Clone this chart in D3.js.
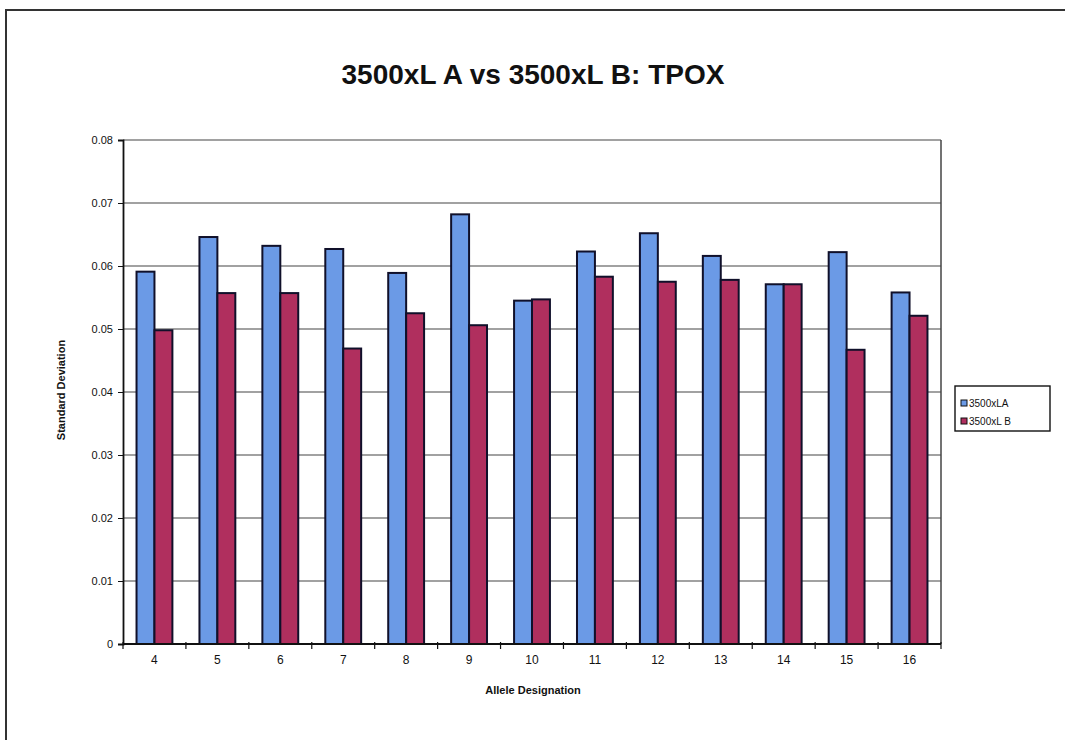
<!DOCTYPE html>
<html lang="en">
<head>
<meta charset="UTF-8">
<title>3500xL A vs 3500xL B: TPOX</title>
<style>
  body { margin: 0; background: #fff; }
  text { font-family: "Liberation Sans", Arial, sans-serif; fill: #111; }
</style>
</head>
<body>
<script src="https://cdn.jsdelivr.net/npm/d3@7"></script>
<script>
// data
var alleles = ["4", "5", "6", "7", "8", "9", "10", "11", "12", "13", "14", "15", "16"];
var seriesNames = ["3500xLA", "3500xL B"];
var valuesA = [0.0591, 0.0646, 0.0632, 0.0627, 0.0589, 0.0682, 0.0545, 0.0623, 0.0652, 0.0616, 0.0571, 0.0622, 0.0558];
var valuesB = [0.0498, 0.0557, 0.0557, 0.0469, 0.0525, 0.0506, 0.0547, 0.0583, 0.0575, 0.0578, 0.0571, 0.0467, 0.0521];
var yTicks = [0, 0.01, 0.02, 0.03, 0.04, 0.05, 0.06, 0.07, 0.08];
var colors = ["#6b9ae6", "#b02f5e"];

var W = 1065, H = 740;
var svg = d3.select("body").append("svg").attr("width", W).attr("height", H);

// outer chart frame (runs off the picture on the right and bottom)
svg.append("path")
  .attr("d", "M6," + (H + 5) + "V10H" + (W + 5))
  .attr("fill", "none").attr("stroke", "#333").attr("stroke-width", 2);

svg.append("text")
  .attr("x", 533).attr("y", 84)
  .attr("text-anchor", "middle")
  .attr("font-size", 28).attr("font-weight", "bold")
  .text("3500xL A vs 3500xL B: TPOX");

var pLeft = 123, pRight = 941, pTop = 140, pBottom = 644;

var x = d3.scaleBand().domain(alleles).range([pLeft, pRight]).paddingInner(0.43).paddingOuter(0.215);
var xs = d3.scaleBand().domain([0, 1]).range([0, x.bandwidth()]);
var y = d3.scaleLinear().domain([0, 0.08]).range([pBottom, pTop]);

// gridlines
svg.append("g").selectAll("line").data(yTicks.slice(1)).enter().append("line")
  .attr("x1", pLeft).attr("x2", pRight)
  .attr("y1", function(d) { return y(d); }).attr("y2", function(d) { return y(d); })
  .attr("stroke", "#444").attr("stroke-width", 1.2);

// right plot border
svg.append("line").attr("x1", pRight).attr("x2", pRight).attr("y1", pTop).attr("y2", pBottom)
  .attr("stroke", "#444").attr("stroke-width", 1.5);

// bars
var rows = alleles.map(function(a, i) { return {a: a, v: [valuesA[i], valuesB[i]]}; });
var g = svg.append("g").selectAll("g").data(rows).enter().append("g")
  .attr("transform", function(d) { return "translate(" + x(d.a) + ",0)"; });
g.selectAll("rect").data(function(d) { return d.v; }).enter().append("rect")
  .attr("x", function(d, i) { return xs(i); })
  .attr("y", function(d) { return y(d); })
  .attr("width", xs.bandwidth())
  .attr("height", function(d) { return pBottom - y(d); })
  .attr("fill", function(d, i) { return colors[i]; })
  .attr("stroke", "#10102a").attr("stroke-width", 2);

// y axis
var yAxis = svg.append("g").attr("transform", "translate(" + pLeft + ",0)")
  .call(d3.axisLeft(y).tickValues(yTicks).tickSize(5).tickFormat(function(d) { return d === 0 ? "0" : d3.format(".2f")(d); }));
yAxis.select(".domain").attr("stroke", "#111").attr("stroke-width", 1.8);
yAxis.selectAll(".tick line").attr("stroke", "#111");
yAxis.selectAll(".tick text").attr("font-size", 11).attr("x", -10).attr("fill", "#111");

// x axis with ticks between categories
var xAxis = svg.append("g").attr("transform", "translate(0," + pBottom + ")");
xAxis.append("line").attr("x1", pLeft).attr("x2", pRight).attr("stroke", "#111").attr("stroke-width", 1.8);
var step = x.step();
xAxis.selectAll(".tk").data(d3.range(alleles.length + 1)).enter().append("line")
  .attr("x1", function(i) { return pLeft + i * step; }).attr("x2", function(i) { return pLeft + i * step; })
  .attr("y1", -2).attr("y2", 5).attr("stroke", "#111").attr("stroke-width", 1.2);
xAxis.selectAll(".lbl").data(alleles).enter().append("text")
  .attr("x", function(d) { return x(d) + x.bandwidth() / 2; })
  .attr("y", 20).attr("text-anchor", "middle").attr("font-size", 12)
  .text(function(d) { return d; });

// axis titles
svg.append("text")
  .attr("transform", "translate(65,390) rotate(-90)")
  .attr("text-anchor", "middle").attr("font-size", 11).attr("font-weight", "bold")
  .text("Standard Deviation");
svg.append("text")
  .attr("x", 533).attr("y", 694).attr("text-anchor", "middle")
  .attr("font-size", 11).attr("font-weight", "bold")
  .text("Allele Designation");

// legend
var lg = svg.append("g").attr("transform", "translate(955,386)");
lg.append("rect").attr("width", 95).attr("height", 45)
  .attr("fill", "#fff").attr("stroke", "#111").attr("stroke-width", 1.4);
var li = lg.selectAll(".li").data(seriesNames).enter().append("g")
  .attr("transform", function(d, i) { return "translate(6," + (14 + i * 18) + ")"; });
li.append("rect").attr("width", 6).attr("height", 6)
  .attr("fill", function(d, i) { return colors[i]; }).attr("stroke", "#111");
li.append("text").attr("x", 8).attr("y", 6.5).attr("font-size", 10).text(function(d) { return d; });
</script>
</body>
</html>
